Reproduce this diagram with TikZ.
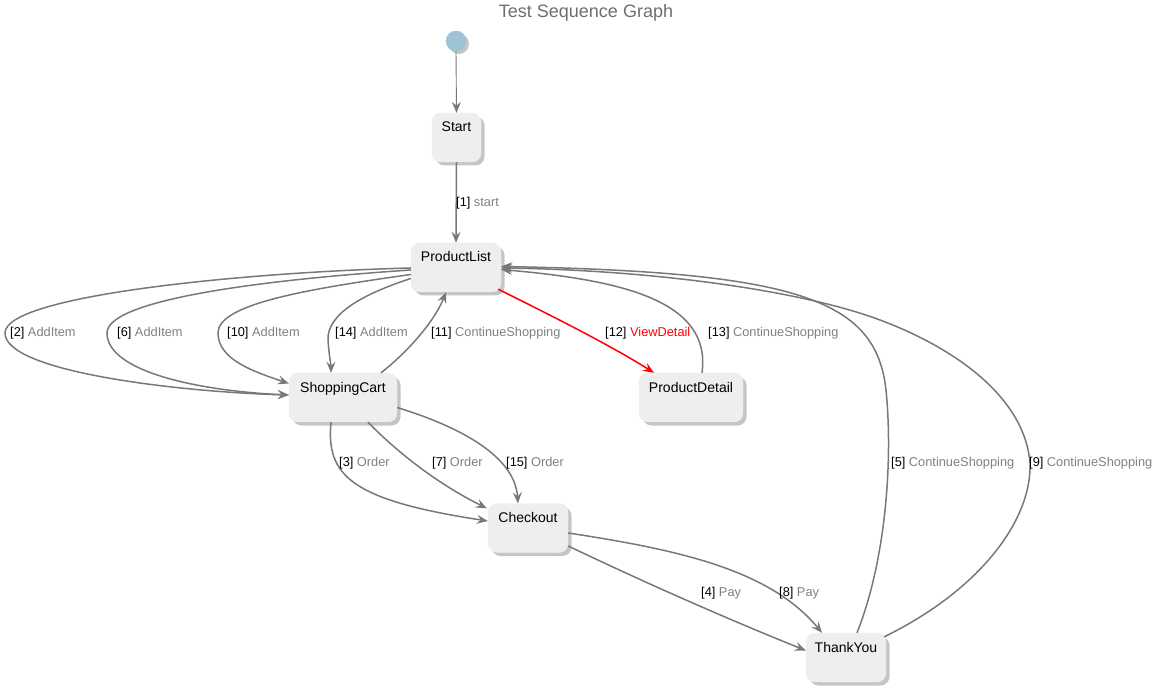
\documentclass[tikz,border=0pt]{standalone}
\usepackage{fontspec}
\setmainfont{Liberation Sans}
\usetikzlibrary{arrows.meta,shadows,calc}
\definecolor{nodefill}{HTML}{EEEEEE}
\definecolor{edgegray}{HTML}{787878}
\definecolor{lblgray}{HTML}{808080}
\definecolor{titlegray}{HTML}{6E6E6E}
\definecolor{initblue}{HTML}{9EC3D5}
\definecolor{viewred}{HTML}{FF0000}
\tikzset{
  st/.style={rectangle, rounded corners=9pt, fill=nodefill, draw=nodefill,
    inner xsep=0pt, inner ysep=0pt, minimum height=49pt,
    text height=19pt, text depth=30pt, font=\fontsize{14}{16}\selectfont,
    drop shadow={shadow xshift=3.5pt, shadow yshift=-3.5pt, fill=black!30, opacity=0.75}},
  initnode/.style={circle, fill=initblue, draw=initblue, minimum size=20pt, inner sep=0pt,
    drop shadow={shadow xshift=3pt, shadow yshift=-3pt, fill=black!30, opacity=0.75}},
  edge/.style={draw=edgegray, line width=1.5pt, -{Stealth[length=11pt,width=9pt,inset=4pt]}},
  thinedge/.style={draw=edgegray, line width=0.9pt, -{Stealth[length=11pt,width=9pt,inset=4pt]}},
  redge/.style={draw=viewred, line width=1.5pt, -{Stealth[length=11pt,width=9pt,inset=4pt]}},
  lbl/.style={anchor=west, inner sep=0pt, font=\fontsize{12.8}{14}\selectfont},
}
\begin{document}
\begin{tikzpicture}[x=1pt,y=-1pt]
\useasboundingbox (0,0) rectangle (1162,692);
\node[font=\fontsize{18}{20}\selectfont, text=titlegray] (title) at (586,13) {Test Sequence Graph};

\node[initnode] (init) at (456,41) {};
\node[st, minimum width=49pt] (start) at (456.5,137.5) {Start};
\node[st, minimum width=90pt] (pl) at (456,267.5) {ProductList};
\node[st, minimum width=108pt] (sc) at (343,397.5) {ShoppingCart};
\node[st, minimum width=104pt] (pd) at (691,397.5) {ProductDetail};
\node[st, minimum width=80pt] (co) at (528,528) {Checkout};
\node[st, minimum width=80pt] (ty) at (846,657.5) {ThankYou};

% initial
\draw[thinedge] (init.south) -- (start.north);
% [1]
\draw[edge] (start.south) -- (pl.north);
\node[lbl] (l1) at (456,203) {[1] \textcolor{lblgray}{start}};

% [2]
\draw[edge] ($(pl.west)+(0,0.5)$) .. controls (250,272) and (5,295) .. (5,333)
  .. controls (5,372) and (180,392) .. ($(sc.west)+(0,-2.5)$);
\node[lbl] (l2) at (10,333) {[2] \textcolor{lblgray}{AddItem}};
% [6]
\draw[edge] ($(pl.west)+(0,2.5)$) .. controls (260,280) and (107,300) .. (107,333)
  .. controls (107,372) and (200,391) .. ($(sc.west)+(0,-2.5)$);
\node[lbl] (l6) at (117,333) {[6] \textcolor{lblgray}{AddItem}};
% [10]
\draw[edge] ($(pl.west)+(0,7)$) .. controls (300,290) and (218,305) .. (218,333)
  .. controls (218,360) and (255,372) .. ($(sc.west)+(0,-14)$);
\node[lbl] (l10) at (227,333) {[10] \textcolor{lblgray}{AddItem}};
% [14]
\draw[edge] ($(pl.west)+(0,11)$) .. controls (360,295) and (327,315) .. (328,340)
  .. controls (329,355) and (331,365) .. ($(sc.north)+(-12,0)$);
\node[lbl] (l14) at (335,333) {[14] \textcolor{lblgray}{AddItem}};
% [11]
\draw[edge] ($(sc.north)+(38,0)$) .. controls (410,350) and (435,320) .. ($(pl.south)+(-10,0)$);
\node[lbl] (l11) at (431,333) {[11] \textcolor{lblgray}{ContinueShopping}};
% [12]
\draw[redge] ($(pl.south east)+(-3,-3)$) .. controls (550,315) and (610,345) .. ($(pd.north)+(-37,0)$);
\node[lbl] (l12) at (605,333) {[12] \textcolor{viewred}{ViewDetail}};
% [13]
\draw[edge] ($(pd.north)+(11,0)$) .. controls (712,300) and (620,280) .. ($(pl.east)+(0,2)$);
\node[lbl] (l13) at (708,333) {[13] \textcolor{lblgray}{ContinueShopping}};
% [5]
\draw[edge] ($(ty.north)+(11,0)$) .. controls (886,560) and (893,460) .. (886,390)
  .. controls (876,300) and (800,272) .. ($(pl.east)+(0,-1)$);
\node[lbl] (l5) at (891,463) {[5] \textcolor{lblgray}{ContinueShopping}};
% [9]
\draw[edge] ($(ty.north east)+(-2,4)$) .. controls (980,590) and (1032,520) .. (1030,463)
  .. controls (1025,400) and (960,350) .. (880,320)
  .. controls (800,290) and (650,270) .. ($(pl.east)+(0,0.5)$);
\node[lbl] (l9) at (1029,463) {[9] \textcolor{lblgray}{ContinueShopping}};

% [3]
\draw[edge] ($(sc.south)+(-12,0)$) .. controls (326,475) and (350,500) .. ($(co.west)+(0,-7)$);
\node[lbl] (l3) at (339,463) {[3] \textcolor{lblgray}{Order}};
% [7]
\draw[edge] ($(sc.south)+(25,0)$) .. controls (400,455) and (440,485) .. ($(co.north west)+(-1,5)$);
\node[lbl] (l7) at (432,463) {[7] \textcolor{lblgray}{Order}};
% [15]
\draw[edge] ($(sc.east)+(0,10)$) .. controls (470,430) and (515,460) .. ($(co.north)+(-10,0)$);
\node[lbl] (l15) at (506,463) {[15] \textcolor{lblgray}{Order}};

% [4]
\draw[edge] ($(co.east)+(0,18)$) .. controls (650,585) and (730,620) .. ($(ty.west)+(0,-7)$);
\node[lbl] (l4) at (701,593) {[4] \textcolor{lblgray}{Pay}};
% [8]
\draw[edge] ($(co.east)+(0,5)$) .. controls (680,550) and (770,570) .. ($(ty.north)+(-24,0)$);
\node[lbl] (l8) at (779,593) {[8] \textcolor{lblgray}{Pay}};
\end{tikzpicture}
\end{document}
